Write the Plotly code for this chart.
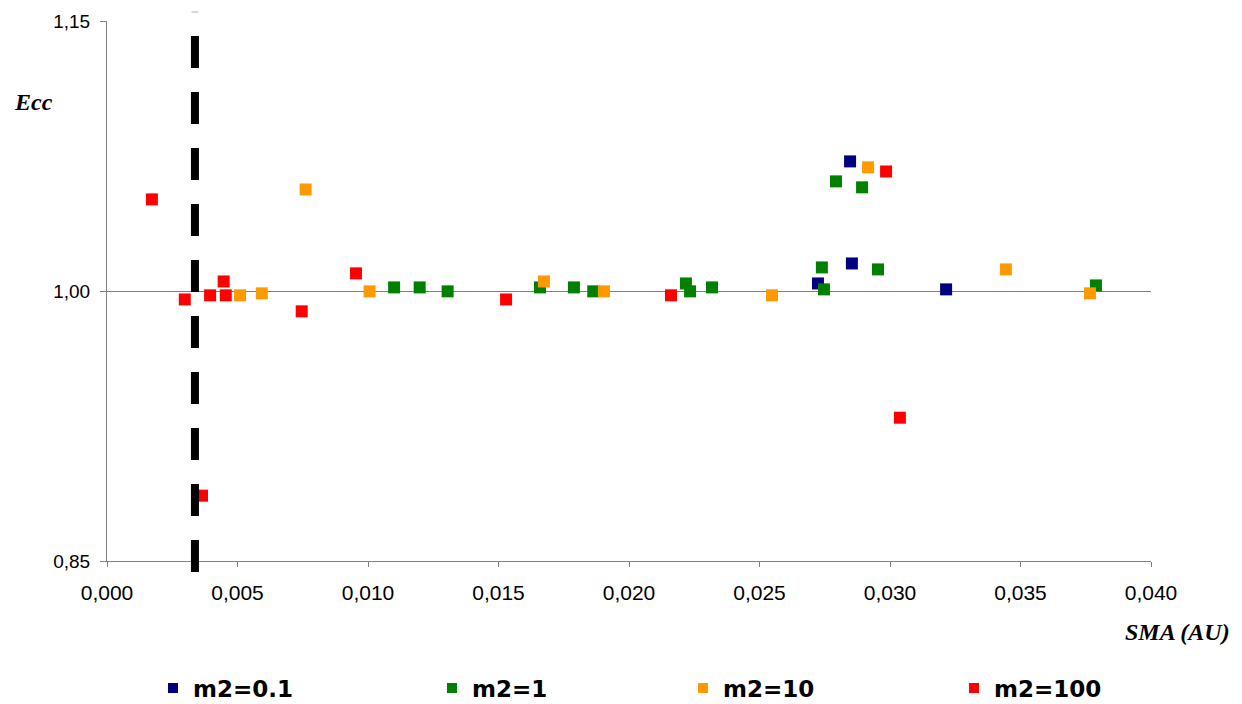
import plotly.graph_objects as go

# ---------------- data ----------------
series_names = ["m2=0.1", "m2=1", "m2=10", "m2=100"]
series_colors = ["#000080", "#008000", "#FF9900", "#FF0000"]

sma_m01 = [0.02724, 0.02854, 0.02847, 0.03215]
ecc_m01 = [1.0042, 1.0153, 1.0720, 1.0009]

sma_m1 = [0.01100, 0.01198, 0.01305, 0.01659, 0.01789, 0.01863, 0.02218, 0.02234,
          0.02318, 0.02739, 0.02747, 0.02793, 0.02893, 0.02954, 0.03789]
ecc_m1 = [1.0020, 1.0020, 0.9998, 1.0020, 1.0020, 0.9998, 1.0042, 0.9998,
          1.0020, 1.0131, 1.0009, 1.0609, 1.0576, 1.0120, 1.0031]

sma_m10 = [0.00510, 0.00593, 0.00761, 0.01006, 0.01674, 0.01904, 0.02548, 0.02916,
           0.03444, 0.03766]
ecc_m10 = [0.9976, 0.9987, 1.0564, 0.9998, 1.0053, 0.9998, 0.9976, 1.0687,
           1.0120, 0.9987]

sma_m100 = [0.00172, 0.00298, 0.00364, 0.00395, 0.00447, 0.00455, 0.00746, 0.00954,
            0.01529, 0.02161, 0.02985, 0.03038]
ecc_m100 = [1.0509, 0.9953, 0.8863, 0.9976, 1.0053, 0.9976, 0.9887, 1.0098,
            0.9953, 0.9976, 1.0664, 0.9296]

limit_sma = 0.00337  # vertical dashed line

x_tickvals = [0.000, 0.005, 0.010, 0.015, 0.020, 0.025, 0.030, 0.035, 0.040]
x_ticktext = ["0,000", "0,005", "0,010", "0,015", "0,020", "0,025", "0,030", "0,035", "0,040"]
y_tickvals = [0.85, 1.00, 1.15]
y_ticktext = ["0,85", "1,00", "1,15"]

# ---------------- figure ----------------
W, H = 1242, 704
ML, MR, MT, MB = 107, 91, 21, 143
PW = W - ML - MR
PH = H - MT - MB

def px_to_paper_x(px):
    return (px - ML) / PW

def px_to_paper_y(py):
    return (H - MB - py) / PH

fig = go.Figure()

xs = [sma_m01, sma_m1, sma_m10, sma_m100]
ys = [ecc_m01, ecc_m1, ecc_m10, ecc_m100]
for name, color, x, y in zip(series_names, series_colors, xs, ys):
    fig.add_trace(go.Scatter(
        x=x, y=y, mode="markers", name=name, showlegend=False,
        marker=dict(symbol="square", size=12, color=color, line=dict(width=0)),
    ))

# legend-only entries (one legend per entry, Excel-like spacing)
legend_centers_px = [173, 452, 703, 974]
legend_ids = ["legend", "legend2", "legend3", "legend4"]
for name, color, lid in zip(series_names, series_colors, legend_ids):
    fig.add_trace(go.Scatter(
        x=[None], y=[None], mode="markers", name=name, legend=lid,
        marker=dict(symbol="square", size=10, color=color, line=dict(width=0)),
    ))

legend_font = dict(family="DejaVu Sans", size=23, color="black", weight="bold")
legend_layouts = {}
for lid, cx in zip(legend_ids, legend_centers_px):
    legend_layouts[lid] = dict(
        xref="container", yref="container",
        x=(cx - 20) / W, xanchor="left",
        y=(H - 688) / H, yanchor="middle",
        orientation="h", font=legend_font, bgcolor="rgba(0,0,0,0)",
        borderwidth=0, itemclick=False,
    )

# dashed vertical limit line (drawn on top of markers)
shapes = [
    dict(type="line", xref="x", yref="paper",
         x0=limit_sma, x1=limit_sma,
         y0=px_to_paper_y(572), y1=px_to_paper_y(36),
         line=dict(color="black", width=8, dash="32px,24px"), layer="above"),
    dict(type="line", xref="x", yref="paper",
         x0=limit_sma - 0.00013, x1=limit_sma + 0.00013,
         y0=px_to_paper_y(12), y1=px_to_paper_y(12),
         line=dict(color="#b0b0b0", width=1), layer="above"),
]

fig.update_layout(
    width=W, height=H,
    margin=dict(l=ML, r=MR, t=MT, b=MB, pad=0, autoexpand=False),
    paper_bgcolor="white", plot_bgcolor="white",
    font=dict(family="Arial", color="black"),
    showlegend=True,
    shapes=shapes,
    annotations=[
        dict(text="<b><i>Ecc</i></b>", xref="paper", yref="paper",
             x=px_to_paper_x(12), xanchor="left",
             y=px_to_paper_y(102), yanchor="middle", showarrow=False,
             font=dict(family="Liberation Serif", size=24, color="black")),
        dict(text="<b><i>SMA (AU)</i></b>", xref="paper", yref="paper",
             x=px_to_paper_x(1232), xanchor="right",
             y=px_to_paper_y(632), yanchor="middle", showarrow=False,
             font=dict(family="Liberation Serif", size=24, color="black")),
    ],
    **legend_layouts,
)

fig.update_xaxes(
    range=[0, 0.040], tickvals=x_tickvals, ticktext=x_ticktext,
    showgrid=False, zeroline=False,
    showline=True, linecolor="#808080", linewidth=1,
    ticks="outside", ticklen=5, tickcolor="#808080", tickwidth=1,
    tickfont=dict(family="Arial", size=21, color="black"),
    ticklabelstandoff=8, automargin=False,
)
fig.update_yaxes(
    range=[0.85, 1.15], tickvals=y_tickvals, ticktext=y_ticktext,
    showgrid=True, gridcolor="#808080", gridwidth=1,
    zeroline=False,
    showline=True, linecolor="#808080", linewidth=1,
    ticks="outside", ticklen=6, tickcolor="#808080", tickwidth=1,
    tickfont=dict(family="Arial", size=19, color="black"),
    ticklabelstandoff=6, automargin=False,
)

fig.write_html("out.html")
